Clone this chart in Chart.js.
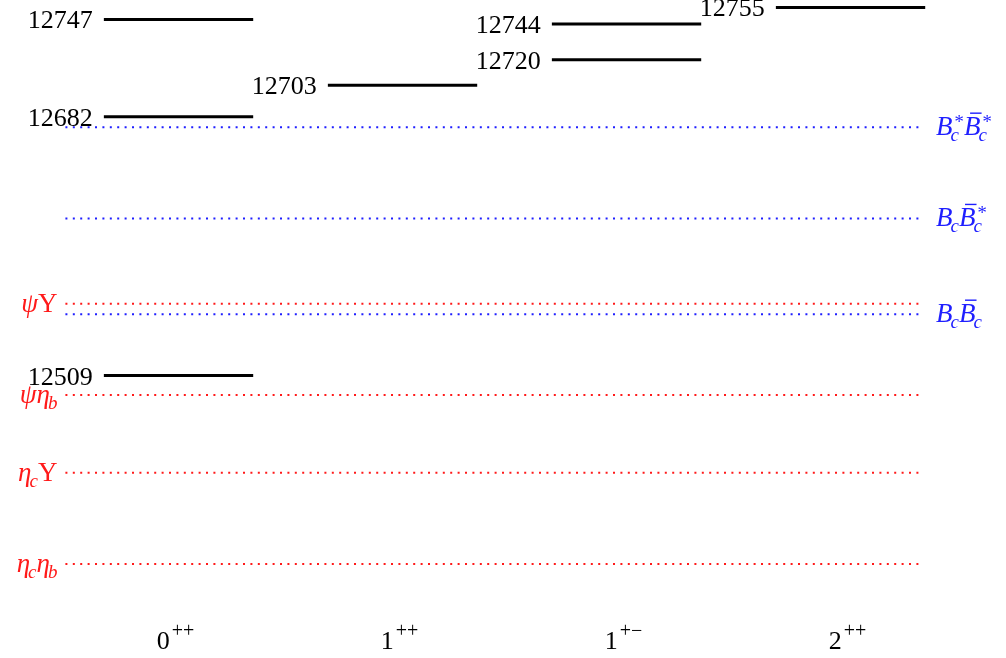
<!DOCTYPE html>
<html>
<head>
<meta charset="utf-8">
<script src="https://cdn.jsdelivr.net/npm/chart.js@4.4.1/dist/chart.umd.min.js"></script>
<style>
  html, body { margin: 0; padding: 0; background: #fff; }
  #wrap { width: 1006px; height: 658px; }
</style>
</head>
<body>
<div id="wrap"><canvas id="spectrum"></canvas></div>
<script>
// J^PC каналы (подписи оси x)
const jValues = ['0', '1', '1', '2'];
const pcValues = ['++', '++', '+\u2212', '++'];

// Массы уровней, МэВ, по каналам
const levels0pp = [12509, 12682, 12747];
const levels1pp = [12703];
const levels1pm = [12720, 12744];
const levels2pp = [12755];
const levelsByChannel = [levels0pp, levels1pp, levels1pm, levels2pp];

// Пороги двух мезонов
const thresholdMasses = [12675, 12614, 12557, 12550, 12496, 12444, 12383];
const thresholdKinds = ['BB', 'BB', 'qq', 'BB', 'qq', 'qq', 'qq'];
const thresholdLabels = [
    [{ b: 'B', it: true, sub: 'c', sup: '*' }, { b: 'B', it: true, bar: true, sub: 'c', sup: '*' }],
    [{ b: 'B', it: true, sub: 'c' }, { b: 'B', it: true, bar: true, sub: 'c', sup: '*' }],
    [{ b: '\u03C8', it: true }, { b: '\u03A5' }],
    [{ b: 'B', it: true, sub: 'c' }, { b: 'B', it: true, bar: true, sub: 'c' }],
    [{ b: '\u03C8', it: true }, { b: '\u03B7', it: true, sub: 'b' }],
    [{ b: '\u03B7', it: true, sub: 'c' }, { b: '\u03A5' }],
    [{ b: '\u03B7', it: true, sub: 'c' }, { b: '\u03B7', it: true, sub: 'b' }]
];

const HALF = 1 / 3;
const LINE_FROM = -0.505;
const LINE_TO = 3.315;
const FONT = '"Liberation Serif", "DejaVu Serif", serif';
const MATH_PX = 27;
const SCRIPT_PX = 19;

const datasets = [];
levelsByChannel.forEach((list, i) => {
    list.forEach(m => {
        datasets.push({
            data: [{ x: i - HALF, y: m }, { x: i + HALF, y: m }],
            borderColor: '#000',
            borderWidth: 3,
            borderCapStyle: 'butt',
            channel: i,
            mass: m
        });
    });
});
thresholdMasses.forEach((m, k) => {
    datasets.push({
        data: [{ x: LINE_FROM, y: m }, { x: LINE_TO, y: m }],
        borderColor: thresholdKinds[k] === 'BB' ? '#1f1fff' : '#ff1a1a',
        borderWidth: 2,
        borderDash: [2, 5.4],
        borderCapStyle: 'butt',
        threshold: k
    });
});

// Ширина составного символа
function atomWidth(ctx, a) {
    ctx.font = (a.it ? 'italic ' : '') + MATH_PX + 'px ' + FONT;
    let w = ctx.measureText(a.b).width;
    let s = 0;
    ctx.font = 'italic ' + SCRIPT_PX + 'px ' + FONT;
    if (a.sub) s = Math.max(s, ctx.measureText(a.sub).width - 2);
    if (a.sup) s = Math.max(s, ctx.measureText(a.sup).width + 2);
    return w + s;
}

function drawRich(ctx, parts, x, y, align, color) {
    const widths = parts.map(a => atomWidth(ctx, a));
    const total = widths.reduce((p, c) => p + c, 0);
    let cx = align === 'right' ? x - total : x;
    ctx.fillStyle = color;
    ctx.strokeStyle = color;
    ctx.textAlign = 'left';
    ctx.textBaseline = 'alphabetic';
    parts.forEach((a, i) => {
        ctx.font = (a.it ? 'italic ' : '') + MATH_PX + 'px ' + FONT;
        const bw = ctx.measureText(a.b).width;
        ctx.fillText(a.b, cx, y);
        if (a.bar) {
            ctx.lineWidth = 1.4;
            ctx.beginPath();
            ctx.moveTo(cx + 6, y - 22);
            ctx.lineTo(cx + bw + 1, y - 22);
            ctx.stroke();
        }
        ctx.font = 'italic ' + SCRIPT_PX + 'px ' + FONT;
        if (a.sup) ctx.fillText(a.sup, cx + bw + 1, y - 7);
        if (a.sub) ctx.fillText(a.sub, cx + bw - 2, y + 6);
        cx += widths[i];
    });
}

const labelsPlugin = {
    id: 'labels',
    afterDatasetsDraw(chart) {
        const ctx = chart.ctx;
        const xs = chart.scales.x;
        const ys = chart.scales.y;
        ctx.save();
        chart.data.datasets.forEach(ds => {
            if (ds.mass !== undefined) {
                ctx.font = '26px ' + FONT;
                ctx.fillStyle = '#000';
                ctx.textAlign = 'right';
                ctx.textBaseline = 'alphabetic';
                ctx.fillText(String(ds.mass), xs.getPixelForValue(ds.channel - HALF) - 11,
                    ys.getPixelForValue(ds.mass) + 9);
            } else if (ds.threshold !== undefined) {
                const k = ds.threshold;
                const py = ys.getPixelForValue(thresholdMasses[k]) + 8;
                if (thresholdKinds[k] === 'BB') {
                    drawRich(ctx, thresholdLabels[k], xs.getPixelForValue(LINE_TO) + 15, py, 'left', '#1f1fff');
                } else {
                    drawRich(ctx, thresholdLabels[k], xs.getPixelForValue(LINE_FROM) - 8, py, 'right', '#ff1a1a');
                }
            }
        });
        // подписи каналов J^PC
        jValues.forEach((j, i) => {
            ctx.font = '26px ' + FONT;
            const w1 = ctx.measureText(j).width;
            ctx.font = '20px ' + FONT;
            const w2 = ctx.measureText(pcValues[i]).width;
            const x0 = xs.getPixelForValue(i) - 3 - (w1 + w2 + 2) / 2;
            ctx.fillStyle = '#000';
            ctx.textAlign = 'left';
            ctx.font = '26px ' + FONT;
            ctx.fillText(j, x0, 649);
            ctx.font = '20px ' + FONT;
            ctx.fillText(pcValues[i], x0 + w1 + 2, 637);
        });
        ctx.restore();
    }
};

new Chart(document.getElementById('spectrum'), {
    type: 'scatter',
    data: { datasets: datasets },
    options: {
        responsive: true,
        maintainAspectRatio: false,
        animation: false,
        showLine: true,
        elements: { point: { radius: 0, hoverRadius: 0 } },
        layout: { padding: 0 },
        plugins: { legend: { display: false }, tooltip: { enabled: false } },
        scales: {
            x: { type: 'linear', display: false, min: -0.797, max: 3.694 },
            y: { type: 'linear', display: false, min: 12320.2, max: 12760.0 }
        }
    },
    plugins: [labelsPlugin]
});
</script>
</body>
</html>
